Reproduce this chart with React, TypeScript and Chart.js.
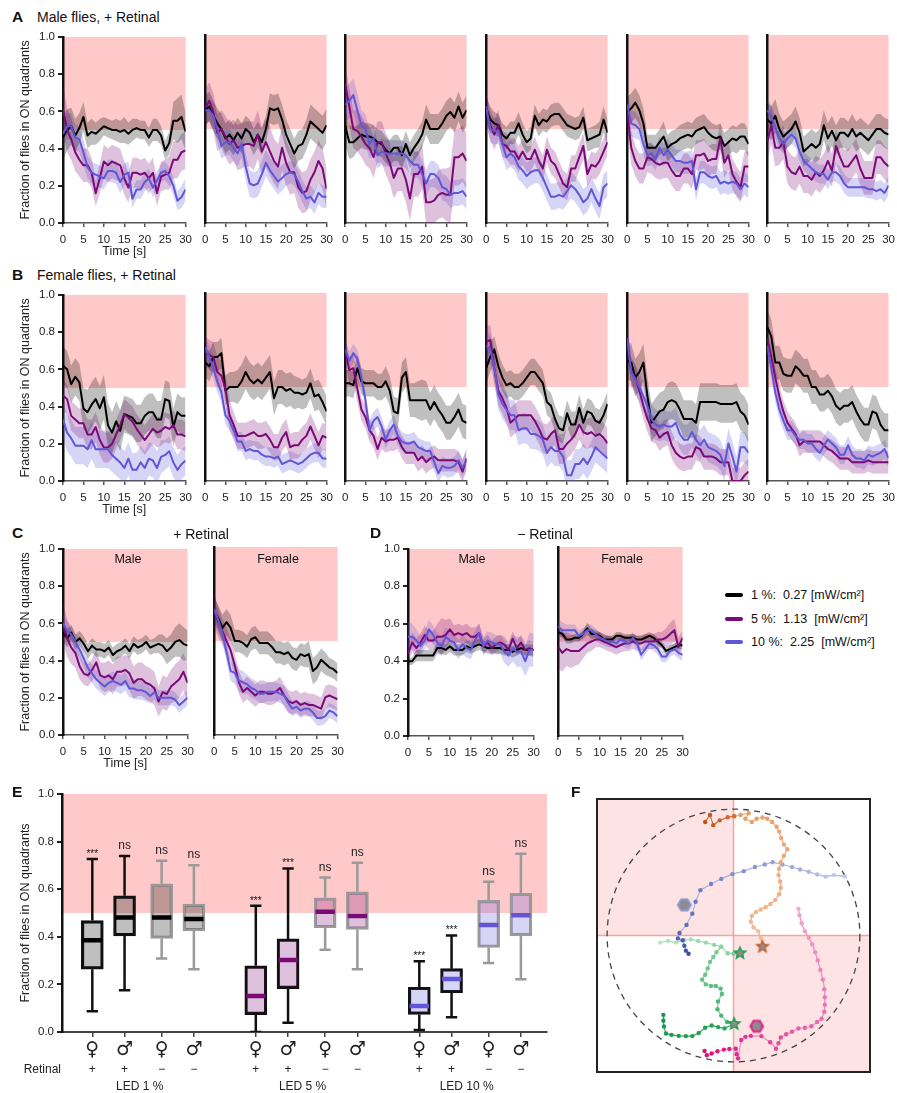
import React, { useEffect, useRef } from "react";
import { Chart, registerables } from "chart.js";
Chart.register(...registerables);

const FONT = "'Liberation Sans', Arial, Helvetica, sans-serif";
const SYMBOL_FONT = "'DejaVu Sans', 'Liberation Sans', sans-serif";
Chart.defaults.font.family = FONT;

// ---------------- common ----------------
const TIME = [0,1,2,3,4,5,6,7,8,9,10,11,12,13,14,15,16,17,18,19,20,21,22,23,24,25,26,27,28,29,30];
const X_TICKS = [0,5,10,15,20,25,30];
const Y_TICKS = [0,0.2,0.4,0.6,0.8,1.0];
const ON_ZONE = [0.5, 1.0];

const COL_K = "#000000", COL_P = "#7a0a78", COL_B = "#6156d8";
const BAND_K = "rgba(0,0,0,0.25)", BAND_P = "rgba(122,10,120,0.25)", BAND_B = "rgba(97,86,216,0.25)";
const PINK = "#ffc9c9";

// ---------------- Panel A (male, + retinal) ----------------
const A1_K = [0.46,0.50,0.52,0.47,0.51,0.57,0.47,0.49,0.48,0.50,0.52,0.51,0.50,0.50,0.49,0.50,0.48,0.50,0.51,0.50,0.50,0.46,0.50,0.50,0.47,0.39,0.43,0.55,0.55,0.57,0.49];
const A1_KE = [0.12,0.11,0.10,0.09,0.08,0.08,0.07,0.07,0.06,0.06,0.05,0.05,0.05,0.06,0.06,0.07,0.06,0.06,0.05,0.05,0.05,0.05,0.06,0.06,0.05,0.05,0.06,0.10,0.12,0.12,0.10];
const A1_P = [0.61,0.50,0.45,0.38,0.34,0.31,0.31,0.27,0.16,0.24,0.33,0.31,0.33,0.32,0.31,0.24,0.19,0.27,0.27,0.26,0.27,0.24,0.27,0.16,0.25,0.26,0.27,0.34,0.34,0.38,0.39];
const A1_PE = [0.13,0.12,0.11,0.10,0.09,0.09,0.09,0.08,0.07,0.08,0.09,0.09,0.09,0.09,0.09,0.09,0.08,0.08,0.08,0.08,0.08,0.08,0.08,0.07,0.08,0.08,0.09,0.10,0.10,0.10,0.10];
const A1_B = [0.48,0.52,0.52,0.46,0.45,0.38,0.30,0.27,0.26,0.25,0.24,0.28,0.28,0.27,0.22,0.26,0.27,0.13,0.18,0.18,0.22,0.24,0.19,0.23,0.27,0.28,0.25,0.20,0.12,0.14,0.18];
const A1_BE = [0.07,0.07,0.07,0.07,0.07,0.07,0.06,0.06,0.06,0.06,0.06,0.06,0.06,0.06,0.06,0.06,0.06,0.05,0.05,0.05,0.05,0.05,0.05,0.05,0.05,0.05,0.05,0.05,0.05,0.06,0.06];

const A2_K = [0.60,0.62,0.57,0.53,0.50,0.45,0.47,0.44,0.48,0.45,0.50,0.48,0.43,0.47,0.43,0.50,0.61,0.60,0.61,0.55,0.47,0.42,0.37,0.41,0.42,0.47,0.54,0.52,0.50,0.48,0.52];
const A2_KE = [0.08,0.08,0.08,0.08,0.08,0.08,0.08,0.08,0.08,0.08,0.07,0.07,0.07,0.07,0.07,0.07,0.08,0.08,0.08,0.08,0.08,0.08,0.08,0.08,0.08,0.08,0.09,0.09,0.09,0.09,0.09];
const A2_P = [0.61,0.65,0.59,0.48,0.50,0.46,0.42,0.44,0.40,0.41,0.42,0.42,0.41,0.47,0.38,0.43,0.38,0.33,0.30,0.40,0.32,0.27,0.27,0.19,0.16,0.17,0.23,0.27,0.33,0.29,0.18];
const A2_PE = [0.10,0.10,0.10,0.10,0.10,0.11,0.11,0.11,0.12,0.12,0.12,0.12,0.13,0.13,0.13,0.13,0.13,0.12,0.12,0.12,0.12,0.12,0.11,0.11,0.11,0.11,0.11,0.11,0.11,0.11,0.11];
const A2_B = [0.60,0.60,0.57,0.50,0.41,0.43,0.43,0.40,0.37,0.42,0.30,0.21,0.20,0.21,0.26,0.32,0.28,0.25,0.22,0.24,0.26,0.27,0.26,0.22,0.17,0.13,0.14,0.11,0.16,0.14,0.14];
const A2_BE = [0.06,0.06,0.07,0.07,0.07,0.07,0.07,0.07,0.07,0.07,0.07,0.07,0.07,0.07,0.07,0.07,0.07,0.07,0.07,0.07,0.06,0.06,0.06,0.06,0.06,0.06,0.06,0.06,0.06,0.06,0.06];

const A3_K = [0.52,0.43,0.43,0.45,0.47,0.46,0.46,0.45,0.43,0.42,0.39,0.37,0.40,0.40,0.36,0.42,0.36,0.40,0.43,0.47,0.55,0.50,0.50,0.50,0.53,0.57,0.59,0.56,0.62,0.56,0.60];
const A3_KE = [0.10,0.09,0.08,0.07,0.07,0.07,0.07,0.07,0.07,0.07,0.07,0.07,0.07,0.07,0.07,0.07,0.07,0.07,0.07,0.07,0.08,0.08,0.08,0.08,0.08,0.08,0.08,0.08,0.08,0.08,0.08];
const A3_P = [0.74,0.62,0.50,0.49,0.46,0.42,0.40,0.35,0.43,0.43,0.37,0.32,0.24,0.29,0.29,0.23,0.13,0.26,0.26,0.30,0.11,0.11,0.12,0.15,0.16,0.15,0.15,0.35,0.35,0.37,0.33];
const A3_PE = [0.10,0.10,0.10,0.11,0.11,0.11,0.11,0.11,0.11,0.11,0.11,0.11,0.11,0.12,0.12,0.12,0.12,0.12,0.12,0.12,0.12,0.12,0.12,0.13,0.13,0.14,0.15,0.15,0.15,0.15,0.15];
const A3_B = [0.63,0.65,0.68,0.60,0.52,0.50,0.42,0.45,0.36,0.38,0.37,0.37,0.37,0.37,0.37,0.36,0.33,0.31,0.31,0.26,0.21,0.26,0.26,0.24,0.19,0.18,0.15,0.16,0.16,0.17,0.14];
const A3_BE = [0.09,0.09,0.09,0.09,0.08,0.08,0.08,0.08,0.07,0.07,0.07,0.07,0.07,0.07,0.07,0.07,0.07,0.07,0.07,0.07,0.07,0.07,0.07,0.07,0.07,0.07,0.07,0.07,0.07,0.07,0.07];

const A4_K = [0.61,0.55,0.53,0.52,0.47,0.45,0.48,0.48,0.53,0.47,0.43,0.45,0.57,0.52,0.55,0.54,0.57,0.58,0.58,0.55,0.52,0.51,0.50,0.51,0.56,0.44,0.45,0.46,0.47,0.55,0.48];
const A4_KE = [0.07,0.07,0.06,0.06,0.06,0.06,0.06,0.06,0.06,0.06,0.06,0.06,0.06,0.06,0.06,0.06,0.06,0.06,0.06,0.06,0.06,0.06,0.06,0.06,0.06,0.06,0.06,0.06,0.07,0.07,0.07];
const A4_P = [0.60,0.52,0.47,0.52,0.42,0.41,0.38,0.38,0.34,0.38,0.34,0.34,0.39,0.33,0.29,0.39,0.33,0.31,0.26,0.21,0.19,0.29,0.29,0.35,0.41,0.26,0.31,0.30,0.33,0.38,0.43];
const A4_PE = [0.08,0.08,0.08,0.08,0.07,0.07,0.07,0.07,0.07,0.07,0.07,0.07,0.07,0.07,0.07,0.07,0.07,0.07,0.07,0.07,0.07,0.07,0.07,0.07,0.07,0.07,0.07,0.07,0.07,0.07,0.07];
const A4_B = [0.62,0.50,0.49,0.49,0.42,0.35,0.37,0.35,0.30,0.28,0.25,0.27,0.28,0.28,0.24,0.19,0.14,0.14,0.15,0.14,0.17,0.20,0.18,0.15,0.11,0.13,0.18,0.13,0.09,0.19,0.21];
const A4_BE = [0.07,0.07,0.07,0.07,0.07,0.07,0.07,0.07,0.07,0.07,0.07,0.07,0.07,0.07,0.07,0.07,0.07,0.07,0.07,0.07,0.07,0.07,0.07,0.07,0.07,0.07,0.07,0.07,0.07,0.07,0.07];

const A5_K = [0.59,0.61,0.64,0.60,0.53,0.40,0.40,0.40,0.43,0.46,0.40,0.42,0.43,0.45,0.46,0.47,0.46,0.49,0.50,0.51,0.48,0.46,0.45,0.46,0.41,0.43,0.45,0.44,0.46,0.46,0.42];
const A5_KE = [0.08,0.08,0.08,0.08,0.08,0.07,0.07,0.07,0.07,0.08,0.07,0.07,0.07,0.07,0.07,0.07,0.07,0.07,0.07,0.07,0.07,0.07,0.07,0.07,0.07,0.07,0.07,0.07,0.07,0.07,0.07];
const A5_P = [0.59,0.40,0.33,0.29,0.29,0.35,0.34,0.32,0.31,0.32,0.32,0.28,0.25,0.25,0.29,0.29,0.26,0.36,0.36,0.37,0.33,0.34,0.34,0.45,0.32,0.36,0.26,0.22,0.19,0.30,0.30];
const A5_PE = [0.09,0.09,0.08,0.08,0.08,0.08,0.08,0.08,0.08,0.08,0.08,0.08,0.08,0.08,0.08,0.08,0.08,0.08,0.08,0.08,0.08,0.08,0.08,0.08,0.08,0.08,0.08,0.08,0.08,0.08,0.08];
const A5_B = [0.63,0.53,0.52,0.50,0.42,0.36,0.37,0.34,0.40,0.36,0.39,0.36,0.33,0.33,0.32,0.32,0.33,0.18,0.27,0.27,0.25,0.24,0.25,0.21,0.22,0.21,0.22,0.21,0.18,0.21,0.19];
const A5_BE = [0.07,0.07,0.07,0.06,0.06,0.06,0.06,0.06,0.06,0.06,0.06,0.06,0.06,0.06,0.06,0.06,0.06,0.06,0.06,0.06,0.06,0.06,0.06,0.06,0.06,0.06,0.06,0.06,0.06,0.06,0.06];

const A6_K = [0.55,0.53,0.57,0.50,0.46,0.48,0.50,0.54,0.48,0.38,0.40,0.42,0.40,0.42,0.52,0.45,0.49,0.44,0.48,0.48,0.46,0.50,0.46,0.48,0.46,0.44,0.47,0.50,0.50,0.48,0.47];
const A6_KE = [0.09,0.09,0.09,0.08,0.08,0.08,0.08,0.08,0.08,0.08,0.08,0.08,0.08,0.08,0.08,0.08,0.08,0.08,0.08,0.08,0.08,0.08,0.08,0.08,0.08,0.08,0.08,0.08,0.08,0.08,0.08];
const A6_P = [0.43,0.52,0.40,0.40,0.43,0.30,0.27,0.26,0.30,0.25,0.25,0.23,0.27,0.25,0.28,0.33,0.28,0.41,0.35,0.30,0.30,0.33,0.36,0.29,0.24,0.24,0.24,0.35,0.35,0.32,0.30];
const A6_PE = [0.10,0.10,0.10,0.09,0.09,0.09,0.09,0.09,0.09,0.09,0.09,0.09,0.09,0.09,0.09,0.09,0.09,0.09,0.09,0.09,0.09,0.09,0.09,0.09,0.09,0.09,0.09,0.09,0.09,0.09,0.09];
const A6_B = [0.60,0.57,0.51,0.45,0.42,0.45,0.47,0.45,0.38,0.33,0.31,0.29,0.27,0.26,0.26,0.23,0.27,0.27,0.25,0.21,0.19,0.19,0.19,0.19,0.19,0.18,0.18,0.17,0.18,0.16,0.20];
const A6_BE = [0.06,0.06,0.06,0.06,0.05,0.05,0.05,0.05,0.05,0.05,0.05,0.05,0.05,0.05,0.05,0.05,0.05,0.05,0.05,0.05,0.05,0.05,0.05,0.05,0.05,0.05,0.05,0.05,0.05,0.05,0.05];

// ---------------- Panel B (female, + retinal) ----------------
const B1_K = [0.62,0.60,0.52,0.56,0.53,0.39,0.37,0.41,0.44,0.39,0.45,0.30,0.26,0.32,0.27,0.36,0.35,0.34,0.31,0.31,0.35,0.37,0.37,0.33,0.33,0.44,0.43,0.29,0.37,0.35,0.35];
const B1_KE = [0.10,0.10,0.10,0.10,0.10,0.11,0.12,0.12,0.12,0.12,0.12,0.12,0.11,0.11,0.11,0.10,0.10,0.10,0.10,0.10,0.10,0.10,0.10,0.10,0.10,0.10,0.10,0.10,0.10,0.10,0.10];
const B1_P = [0.46,0.44,0.35,0.33,0.31,0.31,0.25,0.25,0.29,0.22,0.18,0.18,0.20,0.25,0.30,0.36,0.34,0.32,0.28,0.25,0.22,0.25,0.28,0.26,0.27,0.29,0.28,0.30,0.25,0.25,0.24];
const B1_PE = [0.08,0.08,0.08,0.08,0.08,0.08,0.08,0.08,0.08,0.08,0.08,0.08,0.08,0.08,0.08,0.08,0.08,0.08,0.08,0.08,0.08,0.08,0.08,0.08,0.08,0.08,0.08,0.08,0.08,0.08,0.08];
const B1_B = [0.33,0.26,0.23,0.19,0.19,0.19,0.17,0.22,0.17,0.17,0.17,0.17,0.14,0.12,0.10,0.07,0.12,0.06,0.06,0.10,0.07,0.12,0.11,0.07,0.13,0.14,0.16,0.10,0.06,0.09,0.11];
const B1_BE = [0.10,0.10,0.10,0.10,0.10,0.10,0.10,0.10,0.10,0.10,0.10,0.10,0.09,0.09,0.09,0.09,0.09,0.09,0.09,0.09,0.09,0.09,0.09,0.09,0.09,0.08,0.08,0.08,0.08,0.08,0.08];

const B2_K = [0.63,0.61,0.66,0.66,0.68,0.48,0.50,0.50,0.50,0.53,0.58,0.54,0.52,0.54,0.52,0.55,0.58,0.44,0.50,0.50,0.48,0.49,0.47,0.47,0.46,0.47,0.52,0.45,0.46,0.42,0.37];
const B2_KE = [0.08,0.08,0.08,0.08,0.08,0.08,0.08,0.08,0.09,0.09,0.09,0.09,0.09,0.09,0.09,0.09,0.09,0.09,0.09,0.09,0.09,0.09,0.09,0.08,0.08,0.08,0.08,0.08,0.08,0.08,0.08];
const B2_P = [0.69,0.67,0.66,0.58,0.56,0.49,0.35,0.30,0.24,0.24,0.24,0.25,0.26,0.24,0.24,0.25,0.22,0.18,0.18,0.23,0.26,0.18,0.19,0.19,0.22,0.24,0.29,0.24,0.19,0.24,0.23];
const B2_PE = [0.08,0.08,0.08,0.08,0.08,0.08,0.08,0.07,0.07,0.07,0.07,0.07,0.07,0.07,0.07,0.07,0.07,0.07,0.07,0.07,0.07,0.07,0.07,0.07,0.07,0.07,0.07,0.07,0.07,0.07,0.07];
const B2_B = [0.71,0.66,0.60,0.53,0.47,0.35,0.32,0.27,0.21,0.21,0.16,0.17,0.16,0.16,0.14,0.13,0.13,0.12,0.13,0.09,0.10,0.11,0.10,0.09,0.10,0.12,0.14,0.15,0.15,0.12,0.12];
const B2_BE = [0.06,0.06,0.06,0.06,0.05,0.05,0.05,0.05,0.05,0.05,0.05,0.05,0.05,0.05,0.05,0.05,0.05,0.05,0.05,0.05,0.05,0.05,0.05,0.05,0.05,0.05,0.05,0.05,0.05,0.05,0.05];

const B3_K = [0.52,0.52,0.51,0.60,0.53,0.52,0.52,0.52,0.50,0.50,0.53,0.48,0.37,0.36,0.55,0.58,0.43,0.43,0.43,0.43,0.43,0.38,0.42,0.38,0.35,0.31,0.31,0.34,0.38,0.32,0.31];
const B3_KE = [0.07,0.07,0.07,0.07,0.07,0.07,0.07,0.07,0.07,0.07,0.08,0.08,0.08,0.08,0.08,0.08,0.09,0.09,0.10,0.11,0.10,0.09,0.09,0.09,0.09,0.09,0.09,0.09,0.09,0.09,0.09];
const B3_P = [0.70,0.59,0.60,0.49,0.38,0.34,0.27,0.24,0.17,0.23,0.21,0.22,0.22,0.23,0.18,0.15,0.15,0.15,0.11,0.13,0.10,0.12,0.13,0.11,0.11,0.11,0.11,0.11,0.10,0.05,0.12];
const B3_PE = [0.07,0.07,0.07,0.07,0.06,0.06,0.06,0.06,0.06,0.06,0.06,0.06,0.06,0.06,0.06,0.06,0.06,0.06,0.06,0.06,0.06,0.06,0.06,0.06,0.06,0.06,0.06,0.06,0.06,0.06,0.06];
const B3_B = [0.70,0.64,0.68,0.65,0.55,0.43,0.27,0.32,0.34,0.29,0.22,0.27,0.30,0.24,0.21,0.20,0.20,0.21,0.18,0.17,0.16,0.16,0.10,0.04,0.08,0.07,0.07,0.08,0.11,0.07,0.11];
const B3_BE = [0.05,0.05,0.05,0.05,0.05,0.05,0.05,0.05,0.05,0.05,0.05,0.05,0.05,0.05,0.05,0.05,0.05,0.05,0.05,0.05,0.05,0.05,0.05,0.05,0.05,0.05,0.05,0.05,0.05,0.05,0.05];

const B4_K = [0.60,0.66,0.70,0.61,0.55,0.51,0.52,0.50,0.50,0.52,0.55,0.58,0.58,0.55,0.52,0.42,0.40,0.33,0.28,0.27,0.36,0.30,0.30,0.39,0.31,0.37,0.36,0.32,0.31,0.35,0.41];
const B4_KE = [0.08,0.08,0.07,0.07,0.07,0.07,0.07,0.07,0.07,0.07,0.07,0.07,0.07,0.07,0.07,0.07,0.07,0.07,0.07,0.07,0.07,0.07,0.07,0.07,0.07,0.07,0.07,0.07,0.07,0.07,0.07];
const B4_P = [0.74,0.75,0.60,0.48,0.44,0.39,0.31,0.33,0.35,0.35,0.35,0.35,0.32,0.28,0.23,0.22,0.25,0.27,0.17,0.17,0.20,0.22,0.25,0.30,0.26,0.25,0.26,0.24,0.25,0.23,0.20];
const B4_PE = [0.08,0.08,0.08,0.08,0.08,0.08,0.08,0.08,0.08,0.08,0.08,0.08,0.08,0.08,0.08,0.08,0.08,0.08,0.08,0.08,0.08,0.08,0.08,0.08,0.08,0.08,0.08,0.08,0.08,0.08,0.08];
const B4_B = [0.72,0.70,0.60,0.46,0.41,0.38,0.35,0.35,0.27,0.28,0.28,0.25,0.25,0.24,0.22,0.15,0.18,0.16,0.16,0.13,0.03,0.03,0.09,0.09,0.12,0.09,0.13,0.18,0.16,0.14,0.12];
const B4_BE = [0.08,0.08,0.08,0.08,0.08,0.08,0.08,0.08,0.08,0.08,0.08,0.08,0.08,0.08,0.08,0.08,0.08,0.08,0.08,0.08,0.08,0.08,0.08,0.08,0.08,0.08,0.08,0.08,0.08,0.08,0.08];

const B5_K = [0.64,0.63,0.55,0.58,0.63,0.45,0.31,0.34,0.37,0.38,0.42,0.43,0.42,0.38,0.33,0.33,0.33,0.31,0.42,0.42,0.42,0.42,0.42,0.41,0.41,0.41,0.41,0.42,0.37,0.35,0.30];
const B5_KE = [0.10,0.10,0.10,0.10,0.10,0.10,0.10,0.10,0.10,0.10,0.10,0.10,0.10,0.10,0.10,0.10,0.10,0.10,0.10,0.10,0.10,0.10,0.10,0.10,0.10,0.10,0.10,0.10,0.10,0.10,0.10];
const B5_P = [0.75,0.58,0.55,0.48,0.40,0.33,0.28,0.27,0.23,0.25,0.26,0.19,0.15,0.13,0.12,0.13,0.13,0.18,0.17,0.13,0.13,0.13,0.12,0.10,0.10,0.10,0.00,0.00,0.00,0.03,0.05];
const B5_PE = [0.07,0.07,0.07,0.07,0.07,0.07,0.07,0.07,0.07,0.07,0.07,0.07,0.07,0.07,0.07,0.07,0.07,0.07,0.07,0.07,0.07,0.07,0.07,0.07,0.07,0.07,0.07,0.07,0.07,0.07,0.07];
const B5_B = [0.76,0.58,0.54,0.50,0.45,0.40,0.33,0.30,0.29,0.30,0.29,0.29,0.31,0.25,0.22,0.22,0.26,0.22,0.19,0.22,0.18,0.17,0.16,0.14,0.08,0.20,0.13,0.05,0.18,0.18,0.15];
const B5_BE = [0.08,0.08,0.08,0.08,0.08,0.08,0.08,0.08,0.08,0.08,0.08,0.08,0.08,0.08,0.08,0.08,0.08,0.08,0.08,0.08,0.08,0.08,0.08,0.08,0.08,0.08,0.08,0.08,0.08,0.08,0.08];

const B6_K = [0.82,0.77,0.63,0.63,0.57,0.56,0.56,0.61,0.59,0.56,0.56,0.50,0.50,0.46,0.46,0.48,0.45,0.40,0.38,0.40,0.40,0.42,0.37,0.33,0.30,0.30,0.37,0.36,0.30,0.27,0.27];
const B6_KE = [0.09,0.09,0.09,0.09,0.09,0.09,0.09,0.09,0.09,0.09,0.09,0.09,0.09,0.09,0.09,0.09,0.09,0.09,0.09,0.09,0.09,0.09,0.09,0.09,0.09,0.09,0.09,0.09,0.09,0.09,0.09];
const B6_P = [0.76,0.66,0.55,0.45,0.37,0.31,0.28,0.25,0.19,0.21,0.21,0.21,0.21,0.21,0.19,0.17,0.16,0.14,0.12,0.12,0.12,0.10,0.10,0.10,0.10,0.11,0.10,0.10,0.10,0.10,0.10];
const B6_PE = [0.06,0.06,0.06,0.06,0.06,0.06,0.06,0.06,0.06,0.06,0.06,0.06,0.06,0.06,0.06,0.06,0.06,0.06,0.06,0.06,0.06,0.06,0.06,0.06,0.06,0.06,0.06,0.06,0.06,0.06,0.06];
const B6_B = [0.72,0.60,0.47,0.38,0.32,0.27,0.27,0.24,0.22,0.22,0.20,0.20,0.17,0.15,0.19,0.22,0.20,0.18,0.14,0.14,0.19,0.14,0.12,0.12,0.11,0.14,0.13,0.14,0.15,0.17,0.12];
const B6_BE = [0.05,0.05,0.05,0.05,0.05,0.05,0.05,0.05,0.05,0.05,0.05,0.05,0.05,0.05,0.05,0.05,0.05,0.05,0.05,0.05,0.05,0.05,0.05,0.05,0.05,0.05,0.05,0.05,0.05,0.05,0.05];

// ---------------- Panel C (+ retinal, pooled) ----------------
const CM_K = [0.55,0.52,0.55,0.50,0.52,0.49,0.45,0.48,0.46,0.46,0.45,0.47,0.43,0.45,0.46,0.48,0.45,0.49,0.47,0.48,0.50,0.47,0.48,0.49,0.48,0.45,0.47,0.50,0.51,0.49,0.48];
const CM_KE = [0.05,0.05,0.04,0.04,0.04,0.04,0.04,0.04,0.04,0.04,0.04,0.04,0.04,0.04,0.04,0.04,0.04,0.04,0.04,0.04,0.04,0.04,0.04,0.05,0.06,0.07,0.07,0.08,0.09,0.09,0.08];
const CM_P = [0.60,0.52,0.47,0.44,0.37,0.33,0.32,0.35,0.39,0.32,0.31,0.32,0.30,0.34,0.34,0.35,0.33,0.28,0.30,0.30,0.28,0.27,0.25,0.18,0.23,0.22,0.26,0.28,0.30,0.34,0.28];
const CM_PE = [0.11,0.10,0.09,0.08,0.07,0.06,0.06,0.06,0.07,0.07,0.08,0.08,0.08,0.08,0.08,0.08,0.09,0.09,0.09,0.09,0.09,0.09,0.09,0.08,0.09,0.09,0.09,0.10,0.10,0.10,0.10];
const CM_B = [0.60,0.56,0.54,0.50,0.46,0.41,0.36,0.33,0.30,0.28,0.26,0.28,0.29,0.28,0.27,0.29,0.25,0.25,0.24,0.24,0.23,0.21,0.23,0.20,0.20,0.20,0.20,0.19,0.16,0.18,0.20];
const CM_BE = [0.05,0.05,0.05,0.05,0.05,0.05,0.05,0.05,0.05,0.05,0.05,0.05,0.05,0.05,0.05,0.05,0.05,0.05,0.05,0.05,0.05,0.04,0.04,0.04,0.04,0.04,0.04,0.04,0.04,0.04,0.04];
const CF_K = [0.66,0.62,0.57,0.60,0.57,0.50,0.50,0.49,0.47,0.51,0.52,0.49,0.49,0.49,0.47,0.44,0.44,0.43,0.44,0.41,0.40,0.43,0.42,0.43,0.34,0.36,0.40,0.38,0.36,0.35,0.33];
const CF_KE = [0.07,0.07,0.07,0.07,0.07,0.06,0.06,0.06,0.06,0.06,0.06,0.06,0.06,0.06,0.06,0.06,0.06,0.06,0.06,0.06,0.06,0.06,0.06,0.07,0.07,0.07,0.06,0.06,0.05,0.05,0.05];
const CF_P = [0.66,0.60,0.55,0.50,0.45,0.37,0.28,0.23,0.25,0.23,0.21,0.23,0.23,0.22,0.22,0.23,0.25,0.21,0.18,0.17,0.18,0.16,0.17,0.16,0.16,0.15,0.14,0.20,0.21,0.20,0.19];
const CF_PE = [0.09,0.08,0.07,0.07,0.06,0.06,0.06,0.06,0.06,0.06,0.06,0.06,0.06,0.06,0.06,0.06,0.06,0.06,0.06,0.06,0.06,0.06,0.06,0.06,0.06,0.06,0.06,0.06,0.06,0.06,0.06];
const CF_B = [0.67,0.61,0.54,0.44,0.34,0.33,0.29,0.28,0.27,0.25,0.24,0.22,0.22,0.23,0.23,0.23,0.22,0.21,0.17,0.14,0.15,0.13,0.14,0.14,0.12,0.09,0.09,0.10,0.13,0.12,0.10];
const CF_BE = [0.05,0.05,0.05,0.05,0.05,0.06,0.06,0.06,0.05,0.05,0.05,0.05,0.05,0.05,0.05,0.05,0.05,0.05,0.05,0.04,0.04,0.04,0.04,0.04,0.04,0.04,0.04,0.04,0.04,0.04,0.04];

// ---------------- Panel D (- retinal, pooled) ----------------
const DM_K = [0.40,0.40,0.43,0.43,0.43,0.43,0.43,0.47,0.47,0.46,0.48,0.46,0.46,0.46,0.48,0.47,0.48,0.49,0.48,0.47,0.47,0.47,0.47,0.46,0.46,0.45,0.46,0.47,0.46,0.46,0.46];
const DM_KE = [0.02,0.02,0.03,0.03,0.03,0.03,0.03,0.03,0.03,0.03,0.03,0.03,0.03,0.03,0.03,0.03,0.03,0.03,0.03,0.03,0.03,0.03,0.03,0.03,0.03,0.03,0.03,0.03,0.03,0.03,0.03];
const DM_P = [0.44,0.50,0.47,0.50,0.54,0.51,0.51,0.53,0.53,0.54,0.57,0.54,0.55,0.54,0.55,0.53,0.53,0.55,0.48,0.50,0.47,0.49,0.50,0.49,0.46,0.52,0.47,0.50,0.46,0.47,0.46];
const DM_PE = [0.05,0.05,0.05,0.05,0.05,0.05,0.05,0.07,0.10,0.08,0.06,0.05,0.05,0.05,0.05,0.05,0.05,0.05,0.04,0.04,0.04,0.04,0.04,0.04,0.04,0.04,0.04,0.04,0.04,0.04,0.04];
const DM_B = [0.53,0.53,0.51,0.48,0.51,0.57,0.54,0.50,0.48,0.53,0.51,0.50,0.46,0.49,0.47,0.46,0.51,0.55,0.48,0.51,0.50,0.49,0.49,0.45,0.43,0.47,0.45,0.45,0.40,0.46,0.46];
const DM_BE = [0.08,0.07,0.06,0.05,0.05,0.05,0.05,0.05,0.05,0.05,0.05,0.05,0.05,0.05,0.05,0.05,0.05,0.05,0.05,0.05,0.05,0.05,0.05,0.06,0.06,0.07,0.08,0.08,0.08,0.09,0.09];
const DF_K = [0.55,0.54,0.51,0.51,0.52,0.52,0.54,0.57,0.54,0.54,0.53,0.51,0.51,0.51,0.53,0.53,0.52,0.52,0.52,0.51,0.51,0.52,0.53,0.52,0.50,0.48,0.45,0.46,0.47,0.48,0.48];
const DF_KE = [0.02,0.02,0.02,0.02,0.02,0.02,0.02,0.03,0.03,0.02,0.02,0.02,0.02,0.02,0.02,0.02,0.02,0.02,0.02,0.02,0.02,0.02,0.02,0.02,0.02,0.02,0.02,0.02,0.02,0.02,0.02];
const DF_P = [0.47,0.44,0.46,0.45,0.45,0.45,0.47,0.49,0.50,0.51,0.51,0.50,0.49,0.48,0.47,0.48,0.49,0.49,0.50,0.49,0.49,0.50,0.50,0.50,0.51,0.51,0.52,0.54,0.56,0.47,0.52];
const DF_PE = [0.11,0.10,0.09,0.09,0.08,0.07,0.06,0.05,0.05,0.04,0.04,0.04,0.04,0.04,0.04,0.04,0.04,0.04,0.04,0.04,0.04,0.04,0.04,0.04,0.04,0.04,0.05,0.06,0.06,0.05,0.04];
const DF_B = [0.58,0.56,0.56,0.56,0.56,0.53,0.54,0.56,0.56,0.54,0.52,0.51,0.50,0.50,0.49,0.51,0.50,0.49,0.52,0.49,0.43,0.46,0.49,0.48,0.46,0.42,0.42,0.45,0.46,0.44,0.43];
const DF_BE = [0.04,0.04,0.03,0.03,0.03,0.03,0.03,0.03,0.03,0.03,0.03,0.03,0.03,0.03,0.03,0.03,0.03,0.03,0.03,0.03,0.03,0.03,0.03,0.03,0.03,0.03,0.03,0.03,0.03,0.03,0.03];

// ---------------- Legend ----------------
const LEGEND_LABELS = ["1 %:  0.27 [mW/cm²]", "5 %:  1.13  [mW/cm²]", "10 %:  2.25  [mW/cm²]"];
const LEGEND_COLORS = [COL_K, COL_P, COL_B];

// ---------------- Panel E (box plots) ----------------
const BOX_X = [0, 1, 2.15, 3.15, 5.07, 6.07, 7.22, 8.22, 10.14, 11.14, 12.29, 13.29];
const BOX_MIN = [0.087, 0.175, 0.309, 0.264, 0.0, 0.039, 0.346, 0.264, 0.008, 0.062, 0.29, 0.222];
const BOX_Q1 = [0.264, 0.404, 0.393, 0.425, 0.073, 0.182, 0.438, 0.431, 0.074, 0.165, 0.355, 0.404];
const BOX_MED = [0.386, 0.481, 0.481, 0.475, 0.151, 0.303, 0.505, 0.487, 0.109, 0.223, 0.45, 0.491];
const BOX_Q3 = [0.468, 0.572, 0.623, 0.537, 0.278, 0.391, 0.564, 0.589, 0.188, 0.266, 0.553, 0.583];
const BOX_MAX = [0.727, 0.739, 0.72, 0.701, 0.53, 0.687, 0.649, 0.711, 0.297, 0.405, 0.631, 0.749];
const BOX_SEX = ["♀", "♂", "♀", "♂", "♀", "♂", "♀", "♂", "♀", "♂", "♀", "♂"];
const BOX_RETINAL = ["+", "+", "−", "−", "+", "+", "−", "−", "+", "+", "−", "−"];
const BOX_SIG = ["***", "ns", "ns", "ns", "***", "***", "ns", "ns", "***", "***", "ns", "ns"];
const LED_LABELS = ["LED 1 %", "LED 5 %", "LED 10 %"];
const LED_CENTERS = [1.47, 6.52, 11.61];

// ---------------- Panel F (trajectories, arena units: circle radius 1) ----------------
const F_OR_X = [-0.224,-0.186,-0.160,-0.109,-0.046,0.005,0.056,0.120,0.094,0.145,0.183,0.229,0.267,0.305,0.341,0.361,0.377,0.399,0.425,0.399,0.374,0.361,0.356,0.369,0.374,0.361,0.331,0.293,0.254,0.216,0.178,0.145,0.137,0.158,0.196,0.216,0.229];
const F_OR_Y = [0.898,0.954,0.873,0.911,0.936,0.944,0.954,0.967,0.924,0.898,0.924,0.934,0.924,0.898,0.860,0.822,0.771,0.720,0.682,0.631,0.580,0.529,0.478,0.427,0.377,0.326,0.282,0.249,0.224,0.206,0.186,0.155,0.109,0.064,0.033,-0.018,-0.089];
const F_BL_X = [0.883,0.794,0.730,0.662,0.595,0.527,0.463,0.387,0.310,0.247,0.170,0.081,-0.008,-0.097,-0.178,-0.262,-0.300,-0.326,-0.372,-0.427,-0.440,-0.402,-0.389,-0.377,-0.356];
const F_BL_Y = [0.466,0.478,0.466,0.483,0.504,0.522,0.542,0.562,0.580,0.562,0.542,0.509,0.486,0.448,0.407,0.359,0.267,0.173,0.084,0.020,-0.023,-0.038,-0.081,-0.120,-0.145];
const F_GA_X = [-0.580,-0.517,-0.453,-0.389,-0.338,-0.280,-0.219,-0.153,-0.097,-0.046,0.000,0.051];
const F_GA_Y = [-0.056,-0.043,-0.056,-0.036,-0.031,-0.043,-0.056,-0.074,-0.089,-0.140,-0.145,-0.140];
const F_GB_X = [-0.097,-0.135,-0.160,-0.186,-0.204,-0.224,-0.249,-0.219,-0.178,-0.140,-0.102,-0.092,-0.122,-0.127,-0.097,-0.051,0.005];
const F_GB_Y = [-0.089,-0.132,-0.170,-0.209,-0.260,-0.310,-0.349,-0.387,-0.399,-0.399,-0.420,-0.463,-0.522,-0.583,-0.634,-0.684,-0.700];
const F_GC_X = [-0.555,-0.555,-0.550,-0.534,-0.491,-0.433,-0.377,-0.326,-0.275,-0.224,-0.173,-0.122,-0.071,0.000];
const F_GC_Y = [-0.628,-0.674,-0.720,-0.776,-0.786,-0.794,-0.796,-0.796,-0.771,-0.730,-0.712,-0.725,-0.735,-0.700];
const F_PK_X = [-0.229,-0.211,-0.173,-0.127,-0.076,-0.033,0.018,0.025,0.036,0.061,0.094,0.137,0.221,0.290,0.336,0.356,0.374,0.417,0.463,0.514,0.565,0.616,0.662,0.697,0.718,0.723,0.723,0.718,0.707,0.687,0.667,0.646,0.623,0.595,0.565,0.539,0.522,0.514];
const F_PK_Y = [-0.913,-0.947,-0.934,-0.916,-0.903,-0.898,-0.896,-0.939,-0.972,-0.827,-0.802,-0.794,-0.796,-0.845,-0.896,-0.852,-0.807,-0.781,-0.761,-0.735,-0.730,-0.718,-0.684,-0.659,-0.603,-0.547,-0.489,-0.425,-0.349,-0.272,-0.196,-0.132,-0.069,-0.018,0.033,0.097,0.160,0.211];
const F_STAR_X = [0.229, 0.051, 0.005];
const F_STAR_Y = [-0.089, -0.140, -0.700];
const F_STAR_COL = ["#c8602a", "#23a052", "#23a052"];
const F_HEX_X = [-0.389, 0.183];
const F_HEX_Y = [0.242, -0.718];
const F_HEX_COL = ["#8a96d0", "#e0288a"];

// ---------------- tables built from the arrays ----------------
const PANEL_A = [
  { k: A1_K, kE: A1_KE, p: A1_P, pE: A1_PE, b: A1_B, bE: A1_BE },
  { k: A2_K, kE: A2_KE, p: A2_P, pE: A2_PE, b: A2_B, bE: A2_BE },
  { k: A3_K, kE: A3_KE, p: A3_P, pE: A3_PE, b: A3_B, bE: A3_BE },
  { k: A4_K, kE: A4_KE, p: A4_P, pE: A4_PE, b: A4_B, bE: A4_BE },
  { k: A5_K, kE: A5_KE, p: A5_P, pE: A5_PE, b: A5_B, bE: A5_BE },
  { k: A6_K, kE: A6_KE, p: A6_P, pE: A6_PE, b: A6_B, bE: A6_BE },
];
const PANEL_B = [
  { k: B1_K, kE: B1_KE, p: B1_P, pE: B1_PE, b: B1_B, bE: B1_BE },
  { k: B2_K, kE: B2_KE, p: B2_P, pE: B2_PE, b: B2_B, bE: B2_BE },
  { k: B3_K, kE: B3_KE, p: B3_P, pE: B3_PE, b: B3_B, bE: B3_BE },
  { k: B4_K, kE: B4_KE, p: B4_P, pE: B4_PE, b: B4_B, bE: B4_BE },
  { k: B5_K, kE: B5_KE, p: B5_P, pE: B5_PE, b: B5_B, bE: B5_BE },
  { k: B6_K, kE: B6_KE, p: B6_P, pE: B6_PE, b: B6_B, bE: B6_BE },
];
const PANEL_C = [
  { k: CM_K, kE: CM_KE, p: CM_P, pE: CM_PE, b: CM_B, bE: CM_BE },
  { k: CF_K, kE: CF_KE, p: CF_P, pE: CF_PE, b: CF_B, bE: CF_BE },
];
const PANEL_D = [
  { k: DM_K, kE: DM_KE, p: DM_P, pE: DM_PE, b: DM_B, bE: DM_BE },
  { k: DF_K, kE: DF_KE, p: DF_P, pE: DF_PE, b: DF_B, bE: DF_BE },
];

// ---------------- helpers ----------------
const TEXT = "#222";
const TICK_FONT = { size: 11.5, family: FONT };
const TITLE_FONT = { size: 12.5, family: FONT };

const onZonePlugin = {
  id: "onZone",
  beforeDraw(chart: any) {
    const { ctx, chartArea, scales } = chart;
    const y = scales.y;
    const t = y.getPixelForValue(ON_ZONE[1]);
    const b = y.getPixelForValue(ON_ZONE[0]);
    ctx.save();
    ctx.fillStyle = PINK;
    ctx.fillRect(chartArea.left, t, chartArea.right - chartArea.left, b - t);
    ctx.restore();
  },
};

function TimePlot(props: any) {
  const { L, T, W, H, yw, xh, data, showY, yTitle, xTitle } = props;
  const ref = useRef<HTMLCanvasElement>(null);
  const tp = 8, rp = 10;
  const cw = yw + W + rp, ch = tp + H + xh;
  useEffect(() => {
    const pts = (arr: number[], err: number[] | null, s: number) =>
      TIME.map((t, i) => ({ x: t, y: arr[i] + (err ? s * err[i] : 0) }));
    const series = [
      { m: data.k, e: data.kE, c: COL_K, f: BAND_K, o: 2 },
      { m: data.p, e: data.pE, c: COL_P, f: BAND_P, o: 1 },
      { m: data.b, e: data.bE, c: COL_B, f: BAND_B, o: 0 },
    ];
    const datasets: any[] = [];
    series.forEach((s, si) => {
      datasets.push({ data: pts(s.m, s.e, -1), borderWidth: 0, borderColor: "transparent", pointRadius: 0, fill: false, order: 10 + si * 2 });
      datasets.push({ data: pts(s.m, s.e, 1), borderWidth: 0, borderColor: "transparent", pointRadius: 0, fill: "-1", backgroundColor: s.f, order: 11 + si * 2 });
    });
    series.forEach((s) =>
      datasets.push({ data: pts(s.m, null, 0), borderColor: s.c, borderWidth: 2, pointRadius: 0, fill: false, order: s.o, tension: 0, borderJoinStyle: "round" })
    );
    const chart = new Chart(ref.current as HTMLCanvasElement, {
      type: "line",
      data: { datasets },
      plugins: [onZonePlugin],
      options: {
        animation: false,
        responsive: false,
        events: [],
        layout: { padding: { top: tp, right: rp, left: 0, bottom: 0 } },
        plugins: { legend: { display: false }, tooltip: { enabled: false }, filler: { drawTime: "beforeDatasetsDraw" } } as any,
        scales: {
          x: {
            type: "linear", min: 0, max: 30,
            afterBuildTicks: (s: any) => { s.ticks = X_TICKS.map((v) => ({ value: v })); },
            afterFit: (s: any) => { s.height = xh; },
            ticks: { font: TICK_FONT, color: TEXT, padding: 6, maxRotation: 0, autoSkip: false },
            grid: { drawOnChartArea: false, drawTicks: true, tickLength: 4, color: "#555", lineWidth: 1.5 },
            border: { color: "#555", width: 1.5 },
            title: { display: !!xTitle, text: xTitle || "", font: TITLE_FONT, color: TEXT, padding: { top: 0, bottom: 1 } },
          },
          y: {
            min: 0, max: 1,
            afterBuildTicks: (s: any) => { s.ticks = Y_TICKS.map((v) => ({ value: v })); },
            afterFit: (s: any) => { s.width = yw; },
            ticks: { display: !!showY, font: TICK_FONT, color: TEXT, padding: 3, callback: (v: any) => Number(v).toFixed(1) },
            grid: { drawOnChartArea: false, drawTicks: !!showY, tickLength: 5, color: "#222", lineWidth: 2 },
            border: { color: "#111", width: 2.5 },
            title: { display: !!yTitle, text: yTitle || "", font: TITLE_FONT, color: TEXT, padding: { top: 18, bottom: 0 } },
          },
        },
      } as any,
    });
    return () => chart.destroy();
  }, []);
  return (
    <canvas ref={ref} width={cw} height={ch}
      style={{ position: "absolute", left: L - yw, top: T - tp, width: cw, height: ch }} />
  );
}

function BoxPlot() {
  const ref = useRef<HTMLCanvasElement>(null);
  const L = 62, T = 794, W = 485, H = 238, yw = 62, tp = 10, rp = 10, xh = 61;
  const cw = yw + W + rp, ch = tp + H + xh;
  useEffect(() => {
    const fills = [BAND_K, BAND_P, BAND_B];
    const meds = [COL_K, COL_P, COL_B];
    const CAP = 0.175, HALF = 0.3;
    const whisk = (want: string) => {
      const out: any[] = [];
      BOX_X.forEach((x, i) => {
        if ((BOX_RETINAL[i] === "+") !== (want === "+")) return;
        out.push({ x, y: BOX_MIN[i] }, { x, y: BOX_Q1[i] }, { x, y: null },
          { x, y: BOX_Q3[i] }, { x, y: BOX_MAX[i] }, { x, y: null },
          { x: x - CAP, y: BOX_MAX[i] }, { x: x + CAP, y: BOX_MAX[i] }, { x, y: null },
          { x: x - CAP, y: BOX_MIN[i] }, { x: x + CAP, y: BOX_MIN[i] }, { x, y: null });
      });
      return out;
    };
    const medPts = (g: number) => {
      const out: any[] = [];
      BOX_X.forEach((x, i) => {
        if (Math.floor(i / 4) !== g) return;
        out.push({ x: x - HALF, y: BOX_MED[i] }, { x: x + HALF, y: BOX_MED[i] }, { x, y: null });
      });
      return out;
    };
    const datasets: any[] = [
      {
        type: "bar",
        data: BOX_X.map((x, i) => ({ x, y: [BOX_Q1[i], BOX_Q3[i]] })),
        backgroundColor: BOX_X.map((_, i) => fills[Math.floor(i / 4)]),
        borderColor: BOX_X.map((_, i) => (BOX_RETINAL[i] === "+" ? "#111" : "#9a9a9a")),
        borderWidth: 2.5, borderSkipped: false, barThickness: 22, order: 2,
      },
      { type: "line", data: whisk("+"), borderColor: "#111", borderWidth: 2.5, pointRadius: 0, spanGaps: false, order: 1, borderCapStyle: "butt" },
      { type: "line", data: whisk("-"), borderColor: "#9a9a9a", borderWidth: 2.5, pointRadius: 0, spanGaps: false, order: 1, borderCapStyle: "butt" },
      ...[0, 1, 2].map((g) => ({ type: "line", data: medPts(g), borderColor: meds[g], borderWidth: 4.5, pointRadius: 0, spanGaps: false, order: 0, borderCapStyle: "butt" })),
    ];
    const labelsPlugin = {
      id: "boxLabels",
      afterDatasetsDraw(chart: any) {
        const { ctx, scales } = chart;
        ctx.save();
        ctx.textAlign = "center";
        ctx.textBaseline = "middle";
        BOX_X.forEach((x, i) => {
          const px = scales.x.getPixelForValue(x);
          const py = scales.y.getPixelForValue(BOX_MAX[i]);
          if (BOX_SIG[i] === "***") {
            ctx.font = `10px ${FONT}`;
            ctx.fillStyle = "#111";
            ctx.fillText(BOX_SIG[i], px, py - 5);
          } else {
            ctx.font = `12px ${FONT}`;
            ctx.fillStyle = "#222";
            ctx.fillText(BOX_SIG[i], px, py - 10);
          }
        });
        ctx.restore();
      },
      afterDraw(chart: any) {
        const { ctx, scales, chartArea } = chart;
        ctx.save();
        ctx.fillStyle = TEXT;
        ctx.textBaseline = "middle";
        ctx.font = `12px ${FONT}`;
        ctx.textAlign = "center";
        BOX_X.forEach((x, i) => ctx.fillText(BOX_RETINAL[i], scales.x.getPixelForValue(x), chartArea.bottom + 38));
        ctx.textAlign = "right";
        ctx.fillText("Retinal", chartArea.left - 1, chartArea.bottom + 38);
        ctx.textAlign = "center";
        LED_LABELS.forEach((t, g) => ctx.fillText(t, scales.x.getPixelForValue(LED_CENTERS[g]), chartArea.bottom + 55));
        ctx.restore();
      },
    };
    const chart = new Chart(ref.current as HTMLCanvasElement, {
      type: "bar",
      data: { datasets },
      plugins: [onZonePlugin, labelsPlugin],
      options: {
        animation: false, responsive: false, events: [],
        layout: { padding: { top: tp, right: rp, left: 0, bottom: 0 } },
        plugins: { legend: { display: false }, tooltip: { enabled: false } },
        scales: {
          x: {
            type: "linear", min: -0.94, max: 14.1, offset: false,
            afterBuildTicks: (s: any) => { s.ticks = BOX_X.map((v) => ({ value: v })); },
            afterFit: (s: any) => { s.height = xh; },
            ticks: { font: { size: 19, family: SYMBOL_FONT }, color: TEXT, padding: 2, maxRotation: 0, autoSkip: false,
              callback: (_v: any, i: number) => BOX_SEX[i] },
            grid: { offset: false, drawOnChartArea: false, drawTicks: true, tickLength: 5, color: "#444", lineWidth: 1.5 },
            border: { color: "#444", width: 2 },
          },
          y: {
            min: 0, max: 1,
            afterBuildTicks: (s: any) => { s.ticks = Y_TICKS.map((v) => ({ value: v })); },
            afterFit: (s: any) => { s.width = yw; },
            ticks: { font: TICK_FONT, color: TEXT, padding: 3, callback: (v: any) => Number(v).toFixed(1) },
            grid: { drawOnChartArea: false, drawTicks: true, tickLength: 5, color: "#222", lineWidth: 2 },
            border: { color: "#111", width: 2.5 },
            title: { display: true, text: "Fraction of flies in ON quadrants", font: TITLE_FONT, color: TEXT, padding: { top: 18, bottom: 0 } },
          },
        },
      } as any,
    });
    return () => chart.destroy();
  }, []);
  return <canvas ref={ref} width={cw} height={ch} style={{ position: "absolute", left: L - yw, top: T - tp, width: cw, height: ch }} />;
}

function hexToRgb(h: string) {
  const n = parseInt(h.slice(1), 16);
  return [(n >> 16) & 255, (n >> 8) & 255, n & 255];
}
function ramp(n: number, c1: string, c2: string) {
  const a = hexToRgb(c1), b = hexToRgb(c2);
  return Array.from({ length: n }, (_, i) => {
    const t = n > 1 ? i / (n - 1) : 0;
    return `rgb(${Math.round(a[0] + (b[0] - a[0]) * t)},${Math.round(a[1] + (b[1] - a[1]) * t)},${Math.round(a[2] + (b[2] - a[2]) * t)})`;
  });
}
function markerCanvas(shape: string, color: string) {
  const s = 18;
  const c = document.createElement("canvas");
  c.width = s; c.height = s;
  const g = c.getContext("2d") as CanvasRenderingContext2D;
  g.translate(s / 2, s / 2);
  g.beginPath();
  if (shape === "star") {
    for (let k = 0; k < 10; k++) {
      const r = k % 2 === 0 ? 8 : 3.6;
      const a = -Math.PI / 2 + (k * Math.PI) / 5;
      g.lineTo(r * Math.cos(a), r * Math.sin(a));
    }
  } else {
    for (let k = 0; k < 6; k++) {
      const a = (k * Math.PI) / 3;
      g.lineTo(7.5 * Math.cos(a), 7.5 * Math.sin(a));
    }
  }
  g.closePath();
  g.fillStyle = color;
  g.fill();
  g.beginPath();
  g.arc(0, 0, shape === "star" ? 2.8 : 4.5, 0, Math.PI * 2);
  g.fillStyle = "#8c8c8c";
  g.fill();
  return c;
}

function Arena() {
  const ref = useRef<HTMLCanvasElement>(null);
  const L = 591, T = 793, S = 285;
  const R = 1.088;
  useEffect(() => {
    const track = (xs: number[], ys: number[], c1: string, c2: string, line: string) => ({
      data: xs.map((x, i) => ({ x, y: ys[i] })),
      showLine: true, borderColor: line, borderWidth: 1.2,
      pointRadius: 2.2, pointBorderWidth: 0,
      pointBackgroundColor: ramp(xs.length, c1, c2), order: 1,
    });
    const datasets: any[] = [
      track(F_OR_X.slice(0, 6), F_OR_Y.slice(0, 6), "#bf5318", "#cf6d33", "#cf6d33"),
      track(F_OR_X.slice(5), F_OR_Y.slice(5), "#e99a66", "#f2bd98", "#efb185"),
      track(F_BL_X, F_BL_Y, "#c4cbee", "#3b4ea6", "#a9b2e2"),
      track(F_GA_X, F_GA_Y, "#b9e6c6", "#7ccd97", "#a6dcb5"),
      track(F_GB_X, F_GB_Y, "#7ccd97", "#45b06d", "#7fcb99"),
      track(F_GC_X, F_GC_Y, "#13994a", "#2aa65a", "#34a862"),
      track(F_PK_X, F_PK_Y, "#dc0d7c", "#f5a6d0", "#ef8cc2"),
      {
        data: F_STAR_X.map((x, i) => ({ x, y: F_STAR_Y[i] })),
        pointStyle: F_STAR_COL.map((c) => markerCanvas("star", c)), showLine: false, order: 0,
      },
      {
        data: F_HEX_X.map((x, i) => ({ x, y: F_HEX_Y[i] })),
        pointStyle: F_HEX_COL.map((c) => markerCanvas("hex", c)), showLine: false, order: 0,
      },
    ];
    const arenaPlugin = {
      id: "arena",
      beforeDraw(chart: any) {
        const { ctx, chartArea: a, scales } = chart;
        const cx = scales.x.getPixelForValue(0), cy = scales.y.getPixelForValue(0);
        ctx.save();
        ctx.fillStyle = "#fde3e3";
        ctx.fillRect(a.left, a.top, cx - a.left, cy - a.top);
        ctx.fillRect(cx, cy, a.right - cx, a.bottom - cy);
        ctx.strokeStyle = "#f6a2a2";
        ctx.lineWidth = 1.5;
        ctx.beginPath();
        ctx.moveTo(cx, a.top); ctx.lineTo(cx, a.bottom);
        ctx.moveTo(a.left, cy); ctx.lineTo(a.right, cy);
        ctx.stroke();
        const r = scales.x.getPixelForValue(1) - cx;
        ctx.setLineDash([6, 5]);
        ctx.strokeStyle = "#444";
        ctx.lineWidth = 1.3;
        ctx.beginPath();
        ctx.arc(cx, cy, r, 0, Math.PI * 2);
        ctx.stroke();
        ctx.restore();
      },
      afterDraw(chart: any) {
        const { ctx, chartArea: a } = chart;
        ctx.save();
        ctx.strokeStyle = "#222";
        ctx.lineWidth = 2;
        ctx.strokeRect(a.left + 1, a.top + 1, a.right - a.left - 2, a.bottom - a.top - 2);
        ctx.restore();
      },
    };
    const chart = new Chart(ref.current as HTMLCanvasElement, {
      type: "scatter",
      data: { datasets },
      plugins: [arenaPlugin],
      options: {
        animation: false, responsive: false, events: [],
        layout: { padding: 0 },
        plugins: { legend: { display: false }, tooltip: { enabled: false } },
        scales: {
          x: { type: "linear", min: -R, max: R, display: false },
          y: { type: "linear", min: -R, max: R, display: false },
        },
      } as any,
    });
    return () => chart.destroy();
  }, []);
  return <canvas ref={ref} width={S} height={S} style={{ position: "absolute", left: L, top: T, width: S, height: S }} />;
}

function Txt(props: any) {
  const { x, y, size = 13, bold = false, center = false, children } = props;
  return (
    <div style={{
      position: "absolute", left: x, top: y, transform: `translate(${center ? "-50%" : "0"}, -50%)`,
      fontSize: size, fontWeight: bold ? 700 : 400, fontFamily: FONT, whiteSpace: "pre", color: "#111", lineHeight: 1,
    }}>{children}</div>
  );
}

const A_LEFTS = [63, 204, 344, 485, 626, 766];
const YLABEL = "Fraction of flies in ON quadrants";

export default function App() {
  return (
    <div style={{ position: "absolute", left: 0, top: 0, width: 897, height: 1093, background: "#fff", overflow: "hidden" }}>
      <Txt x={12} y={17} size={15.5} bold>A</Txt>
      <Txt x={37} y={17} size={14}>Male flies, + Retinal</Txt>
      {PANEL_A.map((d, i) => (
        <TimePlot key={"a" + i} L={A_LEFTS[i]} T={35} W={125} H={188} yw={i === 0 ? 63 : 8} xh={i === 0 ? 37 : 26}
          data={d} showY={i === 0} yTitle={i === 0 ? YLABEL : null} xTitle={i === 0 ? "Time [s]" : null} />
      ))}
      <Txt x={12} y={275} size={15.5} bold>B</Txt>
      <Txt x={37} y={275} size={14}>Female flies, + Retinal</Txt>
      {PANEL_B.map((d, i) => (
        <TimePlot key={"b" + i} L={A_LEFTS[i]} T={293} W={125} H={188} yw={i === 0 ? 63 : 8} xh={i === 0 ? 37 : 26}
          data={d} showY={i === 0} yTitle={i === 0 ? YLABEL : null} xTitle={i === 0 ? "Time [s]" : null} />
      ))}
      <Txt x={12} y={533} size={15.5} bold>C</Txt>
      <Txt x={201} y={534} size={14} center>+ Retinal</Txt>
      <TimePlot L={63} T={547} W={127} H={188} yw={63} xh={37} data={PANEL_C[0]} showY yTitle={YLABEL} xTitle="Time [s]" />
      <TimePlot L={213} T={547} W={127} H={188} yw={8} xh={26} data={PANEL_C[1]} />
      <Txt x={128} y={559} size={12.5} center>Male</Txt>
      <Txt x={278} y={559} size={12.5} center>Female</Txt>
      <Txt x={370} y={533} size={15.5} bold>D</Txt>
      <Txt x={545} y={534} size={14} center>− Retinal</Txt>
      <TimePlot L={408} T={547} W={128} H={189} yw={40} xh={26} data={PANEL_D[0]} showY />
      <TimePlot L={557} T={547} W={128} H={189} yw={8} xh={26} data={PANEL_D[1]} />
      <Txt x={472} y={559} size={12.5} center>Male</Txt>
      <Txt x={622} y={559} size={12.5} center>Female</Txt>
      {LEGEND_LABELS.map((t, i) => (
        <React.Fragment key={"lg" + i}>
          <div style={{ position: "absolute", left: 725, top: 595 + i * 23.5 - 2, width: 18, height: 4, borderRadius: 2, background: LEGEND_COLORS[i] }} />
          <Txt x={751} y={595 + i * 23.5} size={12.5}>{t}</Txt>
        </React.Fragment>
      ))}
      <Txt x={12} y={792} size={15.5} bold>E</Txt>
      <BoxPlot />
      <Txt x={571} y={792} size={15.5} bold>F</Txt>
      <Arena />
    </div>
  );
}
